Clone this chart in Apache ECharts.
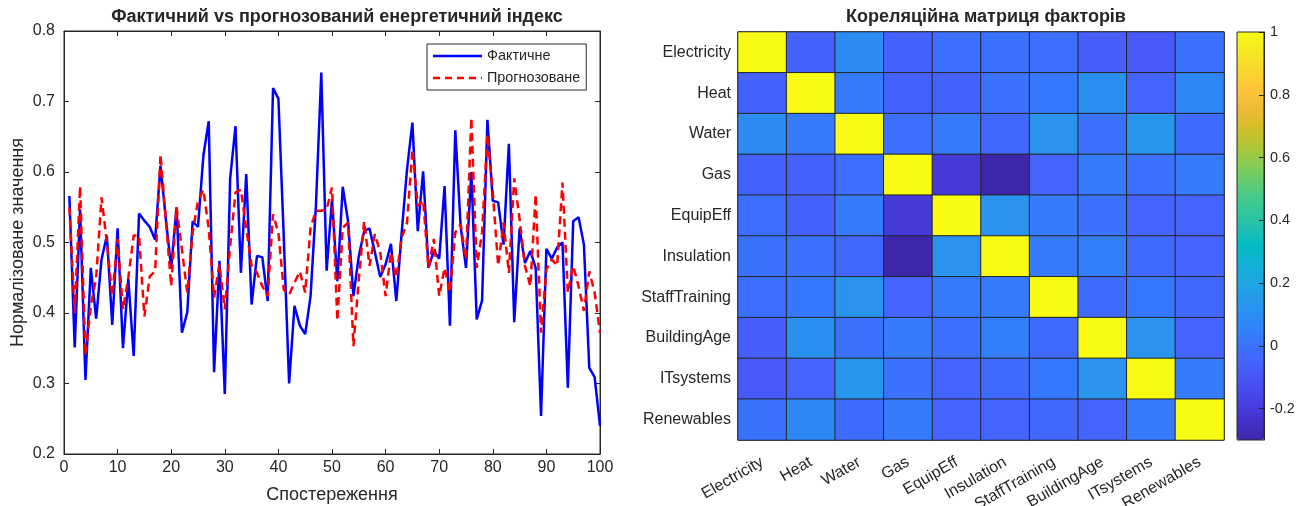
<!DOCTYPE html>
<html>
<head>
<meta charset="utf-8">
<script src="https://cdn.jsdelivr.net/npm/echarts@6/dist/echarts.min.js"></script>
<style>
  html, body { margin: 0; padding: 0; background: #fff; }
  #main { width: 1309px; height: 506px; }
</style>
</head>
<body>
<div id="main"></div>
<script>
// --- data ---
const actual = [
  0.566, 0.351, 0.547, 0.305, 0.464, 0.392, 0.476, 0.510, 0.383, 0.520,
  0.350, 0.448, 0.339, 0.541, 0.531, 0.522, 0.504, 0.609, 0.533, 0.464,
  0.550, 0.372, 0.401, 0.530, 0.522, 0.623, 0.672, 0.316, 0.474, 0.285,
  0.591, 0.665, 0.457, 0.597, 0.412, 0.481, 0.479, 0.417, 0.719, 0.704,
  0.508, 0.300, 0.410, 0.382, 0.370, 0.424, 0.552, 0.741, 0.460, 0.561,
  0.445, 0.579, 0.530, 0.424, 0.481, 0.516, 0.520, 0.486, 0.451, 0.469,
  0.498, 0.417, 0.514, 0.604, 0.670, 0.516, 0.601, 0.464, 0.488, 0.477,
  0.580, 0.382, 0.659, 0.523, 0.464, 0.600, 0.391, 0.418, 0.674, 0.559,
  0.557, 0.497, 0.640, 0.387, 0.520, 0.471, 0.488, 0.464, 0.254, 0.491,
  0.477, 0.493, 0.500, 0.294, 0.530, 0.536, 0.497, 0.322, 0.309, 0.240
];
const predicted = [
  0.550, 0.400, 0.580, 0.340, 0.410, 0.450, 0.564, 0.500, 0.424, 0.505,
  0.405, 0.450, 0.510, 0.510, 0.395, 0.452, 0.459, 0.625, 0.533, 0.438,
  0.550, 0.490, 0.429, 0.514, 0.559, 0.575, 0.520, 0.422, 0.469, 0.405,
  0.495, 0.571, 0.575, 0.520, 0.467, 0.457, 0.438, 0.424, 0.540, 0.514,
  0.433, 0.426, 0.443, 0.459, 0.429, 0.521, 0.545, 0.545, 0.547, 0.578,
  0.389, 0.521, 0.528, 0.353, 0.448, 0.530, 0.467, 0.512, 0.486, 0.424,
  0.486, 0.450, 0.507, 0.528, 0.632, 0.552, 0.560, 0.464, 0.505, 0.424,
  0.464, 0.429, 0.514, 0.526, 0.476, 0.677, 0.464, 0.514, 0.653, 0.571,
  0.467, 0.528, 0.457, 0.591, 0.533, 0.467, 0.438, 0.568, 0.372, 0.462,
  0.476, 0.467, 0.585, 0.429, 0.467, 0.438, 0.403, 0.459, 0.429, 0.372
];
const observations = actual.map((v, i) => i + 1);

const factors = ['Electricity', 'Heat', 'Water', 'Gas', 'EquipEff', 'Insulation',
                 'StaffTraining', 'BuildingAge', 'ITsystems', 'Renewables'];
const corr = [
  [ 1.00, -0.06,  0.09, -0.06, -0.01,  0.00, -0.01, -0.07, -0.09,  0.00],
  [-0.06,  1.00,  0.03, -0.06, -0.06,  0.00,  0.02,  0.11, -0.05,  0.07],
  [ 0.09,  0.03,  1.00, -0.01,  0.03, -0.04,  0.12,  0.00,  0.13, -0.02],
  [-0.06, -0.06, -0.01,  1.00, -0.21, -0.30, -0.05,  0.03,  0.00,  0.03],
  [-0.01, -0.06,  0.03, -0.21,  1.00,  0.12,  0.03,  0.00, -0.05, -0.05],
  [ 0.00,  0.00, -0.04, -0.30,  0.12,  1.00,  0.03,  0.04, -0.03, -0.05],
  [-0.01,  0.02,  0.12, -0.05,  0.03,  0.03,  1.00, -0.03,  0.02, -0.04],
  [-0.07,  0.11,  0.00,  0.03,  0.00,  0.04, -0.03,  1.00,  0.12, -0.05],
  [-0.09, -0.05,  0.13,  0.00, -0.05, -0.03,  0.02,  0.12,  1.00,  0.03],
  [ 0.00,  0.07, -0.02,  0.03, -0.05, -0.05, -0.04, -0.05,  0.03,  1.00]
];
const colorbarTicks = [-0.2, 0, 0.2, 0.4, 0.6, 0.8, 1];

// parula colormap
const parula = ['#3e26a8', '#4332cb', '#4741e5', '#4852f4', '#4563fd', '#3875fe',
  '#2e87f7', '#2796eb', '#20a5e3', '#12b1d6', '#02bac3', '#24c1ae', '#37c897',
  '#57cc7a', '#80cc59', '#abc739', '#d1bf27', '#efba36', '#fec338', '#f9d62d',
  '#f5e924', '#f9fb15'];

const heatData = [];
corr.forEach((row, r) => row.forEach((v, c) => heatData.push([c, r, v])));

const ink = '#262626';
const font = 'Liberation Sans, Arial, sans-serif';
// legend glyphs: solid and dashed strokes
const solidIcon = 'path://M0,0H49V2.5H0Z';
const dashIcon = 'path://M0,0H7V2.5H0ZM12,0H19V2.5H12ZM24,0H31V2.5H24ZM36,0H43V2.5H36ZM48,0H49V2.5H48Z';

const chart = echarts.init(document.getElementById('main'));
chart.setOption({
  animation: false,
  textStyle: { fontFamily: font, color: ink },
  title: [
    { text: 'Фактичний vs прогнозований енергетичний індекс', left: 332, top: 3, textAlign: 'center',
      textStyle: { fontSize: 18, fontWeight: 'bold', color: ink, fontFamily: font } },
    { text: 'Кореляційна матриця факторів', left: 981, top: 3, textAlign: 'center',
      textStyle: { fontSize: 18, fontWeight: 'bold', color: ink, fontFamily: font } }
  ],
  legend: {
    data: [{ name: 'Фактичне', icon: solidIcon }, { name: 'Прогнозоване', icon: dashIcon }],
    orient: 'vertical', left: 427, top: 44,
    padding: [5, 6, 5, 6], itemGap: 8, itemWidth: 49, itemHeight: 14,
    backgroundColor: '#fff', borderColor: ink, borderWidth: 1, borderRadius: 0,
    textStyle: { fontSize: 14.4, color: ink, fontFamily: font }
  },
  grid: [
    { left: 64, top: 31, width: 536, height: 423, show: true, borderColor: ink, borderWidth: 1,
      outerBoundsMode: 'none' },
    { left: 738, top: 32, width: 486, height: 408, show: true, borderColor: ink, borderWidth: 1,
      outerBoundsMode: 'none' },
    { left: 1237, top: 32, width: 27, height: 408, show: true, borderColor: ink, borderWidth: 1, z: 10,
      outerBoundsMode: 'none' }
  ],
  xAxis: [
    { type: 'value', gridIndex: 0, min: 0, max: 100, interval: 10,
      name: 'Спостереження', nameLocation: 'middle', nameGap: 32,
      nameTextStyle: { fontSize: 18, color: ink },
      axisLine: { onZero: false, lineStyle: { color: ink } },
      axisTick: { inside: true, length: 5, lineStyle: { color: ink } },
      axisLabel: { fontSize: 16, color: ink, margin: 6 },
      splitLine: { show: false } },
    { type: 'value', gridIndex: 0, min: 0, max: 100, interval: 10, position: 'top',
      axisLine: { onZero: false, lineStyle: { color: ink } },
      axisTick: { inside: true, length: 5, lineStyle: { color: ink } },
      axisLabel: { show: false }, splitLine: { show: false } },
    { type: 'category', gridIndex: 1, data: factors,
      axisLine: { show: false }, axisTick: { show: false },
      axisLabel: { rotate: 30, fontSize: 16, color: ink, margin: 21 },
      splitLine: { show: false } },
    { type: 'category', gridIndex: 2, data: [''], show: false }
  ],
  yAxis: [
    { type: 'value', gridIndex: 0, min: 0.2, max: 0.8, interval: 0.1,
      name: 'Нормалізоване значення', nameLocation: 'middle', nameGap: 37,
      nameTextStyle: { fontSize: 18, color: ink },
      axisLine: { show: true, onZero: false, lineStyle: { color: ink } },
      axisTick: { show: true, inside: true, length: 5, lineStyle: { color: ink } },
      axisLabel: { fontSize: 16, color: ink, margin: 9, formatter: v => v.toFixed(1) },
      splitLine: { show: false } },
    { type: 'value', gridIndex: 0, min: 0.2, max: 0.8, interval: 0.1, position: 'right',
      axisLine: { show: true, onZero: false, lineStyle: { color: ink } },
      axisTick: { show: true, inside: true, length: 5, lineStyle: { color: ink } },
      axisLabel: { show: false }, splitLine: { show: false } },
    { type: 'category', gridIndex: 1, data: factors, inverse: true,
      axisLine: { show: false }, axisTick: { show: false },
      axisLabel: { fontSize: 16, color: ink, margin: 7 },
      splitLine: { show: false } },
    { type: 'value', gridIndex: 2, min: -0.3, max: 1, position: 'right', z: 10,
      axisLine: { show: true, onZero: false, lineStyle: { color: ink } },
      axisTick: { show: true, inside: true, length: 5, lineStyle: { color: ink }, customValues: colorbarTicks },
      axisLabel: { fontSize: 14.4, color: ink, margin: 6, customValues: colorbarTicks,
                   formatter: v => String(Math.round(v * 10) / 10) },
      splitLine: { show: false } }
  ],
  visualMap: {
    type: 'continuous', min: -0.3, max: 1, seriesIndex: 2,
    left: 1237, top: 32, padding: 0, itemWidth: 27, itemHeight: 408,
    calculable: false, hoverLink: false,
    inRange: { color: parula }
  },
  series: [
    { name: 'Фактичне', type: 'line', xAxisIndex: 0, yAxisIndex: 0,
      data: observations.map((x, i) => [x, actual[i]]),
      symbol: 'none', lineStyle: { color: '#0000ff', width: 2.5 }, itemStyle: { color: '#0000ff' } },
    { name: 'Прогнозоване', type: 'line', xAxisIndex: 0, yAxisIndex: 0,
      data: observations.map((x, i) => [x, predicted[i]]),
      symbol: 'none', lineStyle: { color: '#ff0000', width: 2.5, type: [8, 5] }, itemStyle: { color: '#ff0000' } },
    { name: 'corr', type: 'heatmap', xAxisIndex: 2, yAxisIndex: 2, data: heatData,
      itemStyle: { borderColor: ink, borderWidth: 1 }, emphasis: { disabled: true } }
  ]
});
</script>
</body>
</html>
